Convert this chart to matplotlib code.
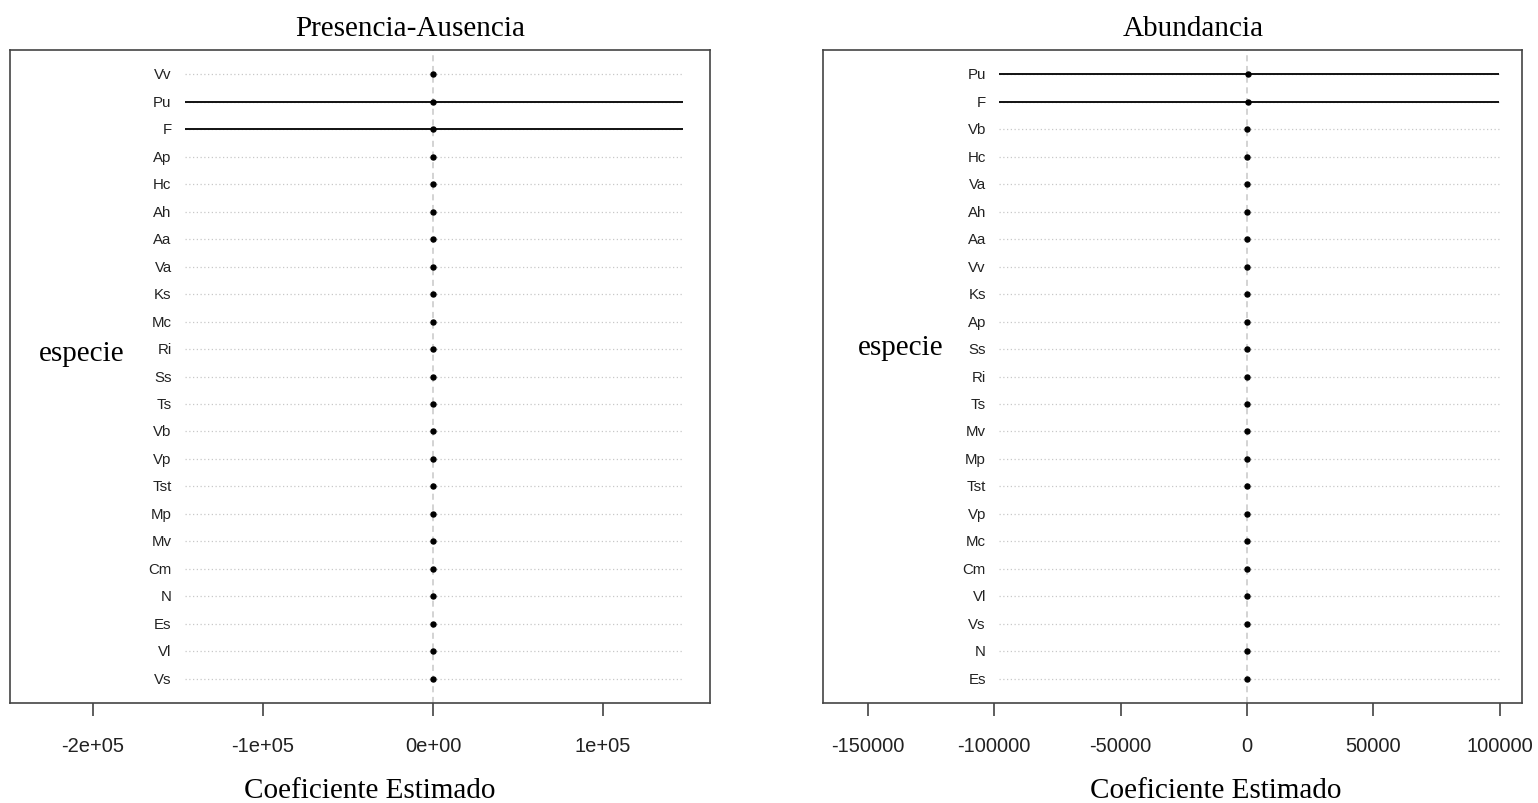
import matplotlib
matplotlib.use("Agg")
import matplotlib.pyplot as plt

# Presencia-Ausencia model (top to bottom)
pa_species = ["Vv", "Pu", "F", "Ap", "Hc", "Ah", "Aa", "Va", "Ks", "Mc", "Ri", "Ss",
              "Ts", "Vb", "Vp", "Tst", "Mp", "Mv", "Cm", "N", "Es", "Vl", "Vs"]
pa_est = [0] * 23
pa_lo = [0, -146000, -146000] + [0] * 20
pa_hi = [0, 147000, 147000] + [0] * 20

# Abundancia model (top to bottom)
ab_species = ["Pu", "F", "Vb", "Hc", "Va", "Ah", "Aa", "Vv", "Ks", "Ap", "Ss", "Ri",
              "Ts", "Mv", "Mp", "Tst", "Vp", "Mc", "Cm", "Vl", "Vs", "N", "Es"]
ab_est = [500, 500] + [0] * 21
ab_lo = [-98000, -98000] + [0] * 21
ab_hi = [99500, 99500] + [0] * 21

pa_ticks = [-200000, -100000, 0, 100000]
pa_ticklabels = ["-2e+05", "-1e+05", "0e+00", "1e+05"]
ab_ticks = [-150000, -100000, -50000, 0, 50000, 100000]
ab_ticklabels = ["-150000", "-100000", "-50000", "0", "50000", "100000"]

W, H = 1538, 804
fig = plt.figure(figsize=(W / 100, H / 100), dpi=100)
fig.patch.set_facecolor("white")

SANS = "Liberation Sans"
SERIF = "Liberation Serif"


def panel(rect_px, species, est, lo, hi, xlim, ticks, ticklabels):
    x0, x1, y0, y1 = rect_px
    ax = fig.add_axes([x0 / W, 1 - y1 / H, (x1 - x0) / W, (y1 - y0) / H])
    n = len(species)
    ypos = list(range(n, 0, -1))
    xmin, xmax = min(lo), max(hi)
    ax.axvline(0, color="#c8c8c8", lw=1.1, ls=(0, (4, 3)), zorder=1)
    for y, name, e, l, h in zip(ypos, species, est, lo, hi):
        ax.plot([xmin, xmax], [y, y], color="#c8c8c8", lw=0.9, ls=(0, (1, 2)), zorder=1)
        if h > l:
            ax.plot([l, h], [y, y], color="#111111", lw=1.4, zorder=2,
                    solid_capstyle="butt")
        ax.plot([e], [y], "o", color="black", ms=3.6, zorder=3)
        ax.annotate(name, (xmin, y), xytext=(-9.5, 0), textcoords="offset points",
                    ha="right", va="center", fontsize=10.8, family=SANS,
                    color="#222222")
    ax.set_xlim(*xlim)
    ax.set_ylim(1 - 0.873, n + 0.873)
    ax.set_yticks([])
    ax.set_xticks(ticks)
    ax.set_xticklabels(ticklabels, family=SANS, fontsize=14.5, color="#222222")
    ax.tick_params(axis="x", length=9, width=1.1, color="#333333", pad=15)
    for s in ax.spines.values():
        s.set_color("#444444")
        s.set_linewidth(1.2)
    return ax


panel((10, 710, 51, 704), pa_species, pa_est, pa_lo, pa_hi,
      (-248800, 162900), pa_ticks, pa_ticklabels)
panel((823, 1522, 51, 704), ab_species, ab_est, ab_lo, ab_hi,
      (-167600, 108700), ab_ticks, ab_ticklabels)

txt = dict(family=SERIF, fontsize=21, color="black", ha="center", va="center")
fig.text(410 / W, 1 - 29 / H, "Presencia-Ausencia", **txt)
fig.text(1193 / W, 1 - 29 / H, "Abundancia", **txt)
fig.text(370 / W, 1 - 791 / H, "Coeficiente Estimado", **txt)
fig.text(1216 / W, 1 - 791 / H, "Coeficiente Estimado", **txt)
fig.text(82 / W, 1 - 354 / H, "especie", **txt)
fig.text(901 / W, 1 - 348 / H, "especie", **txt)

fig.savefig("out.png", dpi=100, facecolor="white")
